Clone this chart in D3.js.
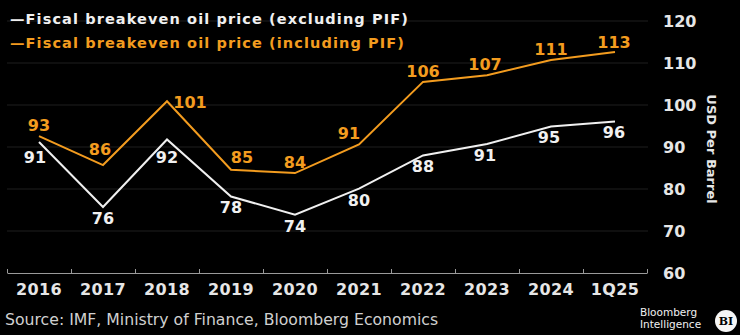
<!DOCTYPE html>
<html>
<head>
<meta charset="utf-8">
<script src="https://cdn.jsdelivr.net/npm/d3@7"></script>
<style>
  body { margin: 0; background: #000; }
  svg { display: block; }
  text { font-family: "DejaVu Sans", sans-serif; }
</style>
</head>
<body>
<div id="chart"></div>
<script>
// chart values
var periods = ['2016', '2017', '2018', '2019', '2020', '2021', '2022', '2023', '2024', '1Q25'];
var excludingPIF = [91.2, 75.7, 91.8, 78.2, 73.9, 80.1, 88.0, 90.7, 94.9, 96.1];
var includingPIF = [92.6, 85.7, 100.9, 84.6, 83.8, 90.6, 105.5, 107.1, 110.7, 112.6];
var yTicks = [60, 70, 80, 90, 100, 110, 120];

var seriesNames = ['Fiscal breakeven oil price (excluding PIF)', 'Fiscal breakeven oil price (including PIF)'];

var width = 740, height = 335;
var orange = '#f39c1f';

// label nudges (layout only), [dx, dy] from the point
var nudgeEx = [[-4, 15], [0, 11], [0, 18], [0, 11], [0, 12], [0, 12], [0, 11], [-2, 11], [-2, 11], [-1, 11]];
var nudgeIn = [[0, -11], [-3, -16], [23, 1], [11, -12], [0, -11], [-10, -11], [0, -11], [-2, -11], [0, -11], [-1, -10]];

var svg = d3.select('#chart').append('svg')
  .attr('width', width)
  .attr('height', height)
  .style('background', '#000');

var x = d3.scaleBand()
  .domain(periods)
  .range([7, 647]);

var y = d3.scaleLinear()
  .domain([60, 120])
  .range([273, 21]);

// gridlines
svg.append('g')
  .selectAll('line')
  .data(yTicks.slice(1))
  .enter().append('line')
    .attr('x1', 7)
    .attr('x2', 648)
    .attr('y1', function(d) { return y(d); })
    .attr('y2', function(d) { return y(d); })
    .attr('stroke', '#1e1e1e')
    .attr('stroke-width', 1);

// right axis labels
var yAxis = svg.append('g')
  .attr('transform', 'translate(655,0)')
  .call(d3.axisRight(y).tickValues(yTicks).tickSize(0).tickPadding(8));
yAxis.select('.domain').remove();
yAxis.selectAll('text')
  .attr('fill', '#e6e6e6')
  .style('font-size', '16px')
  .style('font-weight', 'bold')
  .style('font-family', '"DejaVu Sans", sans-serif');

svg.append('text')
  .attr('transform', 'translate(707,149) rotate(90)')
  .attr('text-anchor', 'middle')
  .attr('fill', '#e6e6e6')
  .style('font-size', '13px')
  .style('font-weight', 'bold')
  .text('USD Per Barrel');

// bottom axis: line with boundary ticks
var bounds = d3.scaleLinear().domain([0, periods.length]).range([7, 647]);
var xTickAxis = svg.append('g')
  .attr('transform', 'translate(0,' + y(60) + ')')
  .call(d3.axisTop(bounds).ticks(periods.length).tickSize(4).tickSizeOuter(0).tickFormat(''));
xTickAxis.selectAll('line, path').attr('stroke', '#9a9a9a');

var xAxis = svg.append('g')
  .attr('transform', 'translate(0,' + y(60) + ')')
  .call(d3.axisBottom(x).tickSize(0).tickPadding(11));
xAxis.select('.domain').remove();
xAxis.selectAll('text')
  .attr('fill', '#e6e6e6')
  .style('font-size', '16px')
  .style('letter-spacing', '0.4px')
  .style('font-weight', 'bold')
  .style('font-family', '"DejaVu Sans", sans-serif');

// lines
var line = d3.line()
  .x(function(d, i) { return x(periods[i]) + x.bandwidth() / 2; })
  .y(function(d) { return y(d); });

svg.append('path')
  .datum(includingPIF)
  .attr('fill', 'none')
  .attr('stroke', orange)
  .attr('stroke-width', 2)
  .attr('d', line);

svg.append('path')
  .datum(excludingPIF)
  .attr('fill', 'none')
  .attr('stroke', '#f0f0f0')
  .attr('stroke-width', 2)
  .attr('d', line);

function drawLabels(values, nudge, colour) {
  svg.append('g')
    .selectAll('text')
    .data(values)
    .enter().append('text')
      .attr('x', function(d, i) { return x(periods[i]) + x.bandwidth() / 2 + nudge[i][0]; })
      .attr('y', function(d, i) { return y(d) + nudge[i][1]; })
      .attr('dy', '0.36em')
      .attr('text-anchor', 'middle')
      .attr('fill', colour)
      .style('font-size', '16px')
      .style('font-weight', 'bold')
      .text(function(d) { return Math.round(d); });
}
drawLabels(includingPIF, nudgeIn, orange);
drawLabels(excludingPIF, nudgeEx, '#f0f0f0');

// legend
var legend = svg.append('g');
legend.selectAll('text')
  .data(seriesNames)
  .enter().append('text')
    .attr('x', 10)
    .attr('y', function(d, i) { return 24 + i * 24; })
    .attr('fill', function(d, i) { return i === 0 ? '#f0f0f0' : orange; })
    .style('font-size', '14.5px')
    .style('letter-spacing', '1.1px')
    .style('font-weight', 'bold')
    .text(function(d) { return '\u2014' + d; });

// source
svg.append('text')
  .attr('x', 5)
  .attr('y', 325)
  .attr('fill', '#d0d0d0')
  .style('font-size', '15.7px')
  .text('Source: IMF, Ministry of Finance, Bloomberg Economics');

// Bloomberg Intelligence mark
svg.append('text')
  .attr('x', 640)
  .attr('y', 316)
  .attr('fill', '#f0f0f0')
  .style('font-size', '10.5px')
  .text('Bloomberg');
svg.append('text')
  .attr('x', 640)
  .attr('y', 328)
  .attr('fill', '#f0f0f0')
  .style('font-size', '10.5px')
  .text('Intelligence');
svg.append('circle')
  .attr('cx', 726)
  .attr('cy', 321)
  .attr('r', 11)
  .attr('fill', '#f5f5f5');
svg.append('text')
  .attr('x', 726)
  .attr('y', 321)
  .attr('dy', '0.36em')
  .attr('text-anchor', 'middle')
  .attr('fill', '#000')
  .style('font-family', '"DejaVu Serif", serif')
  .style('font-size', '11px')
  .style('font-weight', 'bold')
  .text('BI');
</script>
</body>
</html>
